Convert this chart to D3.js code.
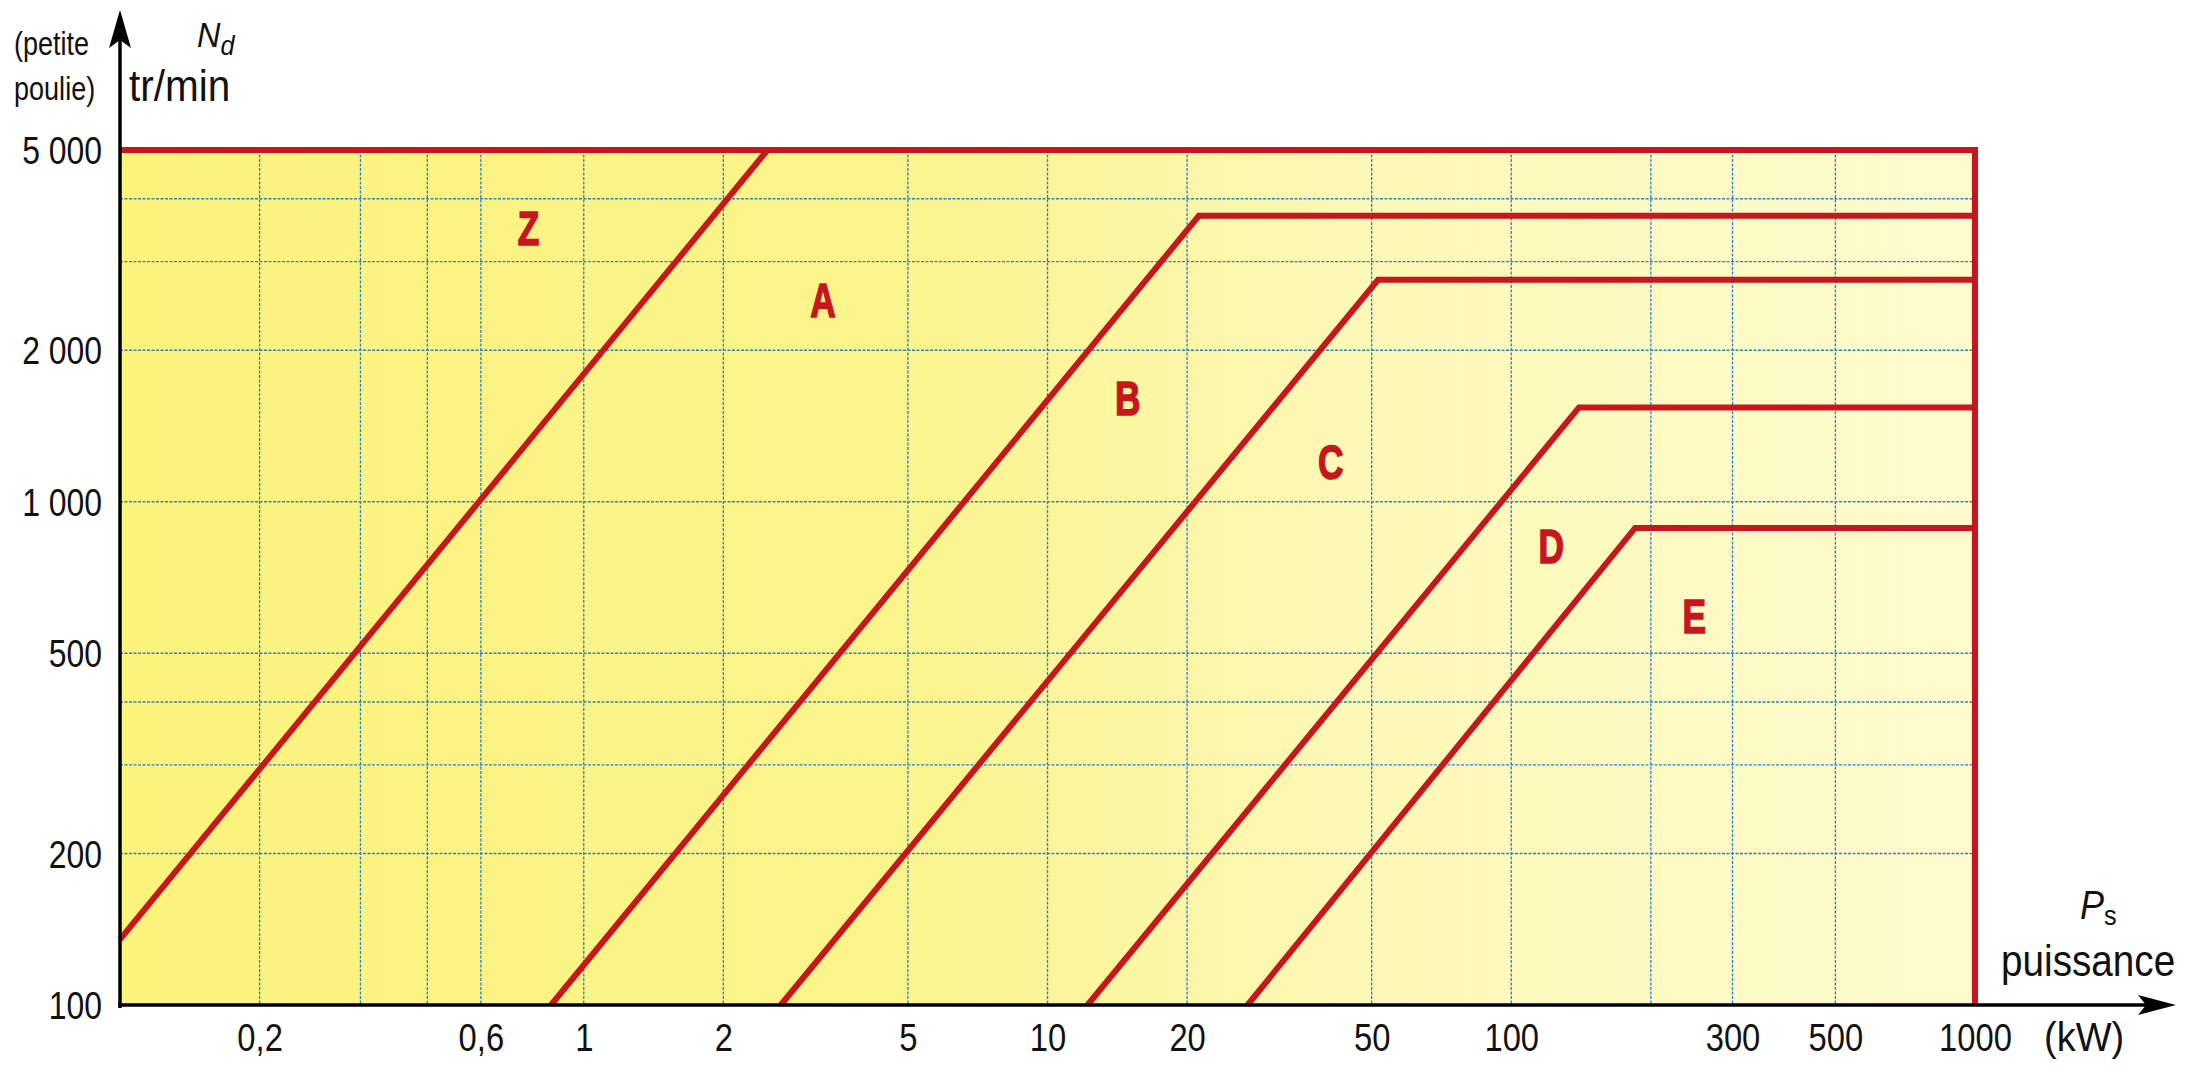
<!DOCTYPE html>
<html>
<head>
<meta charset="utf-8">
<script src="https://cdn.jsdelivr.net/npm/d3@7"></script>
<style>
  html, body { margin: 0; padding: 0; background: #ffffff; }
  svg { display: block; }
  .txt { font-family: "Liberation Sans", Arial, Helvetica, sans-serif; fill: #111; }
</style>
</head>
<body>
<svg id="chart" width="2202" height="1079"></svg>
<script>
// ---------- data ----------
const xGridValues = [0.2, 0.33, 0.46, 0.6, 1, 2, 5, 10, 20, 50, 100, 200, 300, 500];
const xTickValues = [0.2, 0.6, 1, 2, 5, 10, 20, 50, 100, 300, 500, 1000];
const xTickLabels = ["0,2", "0,6", "1", "2", "5", "10", "20", "50", "100", "300", "500", "1000"];
const yGridValues = [200, 300, 400, 500, 1000, 2000, 3000, 4000];
const yTickValues = [100, 200, 500, 1000, 2000, 5000];
const yTickLabels = ["100", "200", "500", "1 000", "2 000", "5 000"];

// boundaries between belt sections: [power kW, speed tr/min]
const boundaryZA = [[0.1, 135], [2.49, 5000]];
const boundaryAB = [[0.85, 100], [21.2, 3700], [1000, 3700]];
const boundaryBC = [[2.66, 100], [51.6, 2760], [1000, 2760]];
const boundaryCD = [[12.2, 100], [140, 1540], [1000, 1540]];
const boundaryDE = [[27, 100], [185, 887], [1000, 887]];
const outerLimit = [[0.1, 5000], [1000, 5000], [1000, 100]];

const sectionNames = ["Z", "A", "B", "C", "D", "E"];
const sectionP = [0.76, 3.28, 14.9, 40.8, 122, 248];
const sectionN = [3515, 2530, 1615, 1205, 820, 596];

// ---------- layout ----------
const plotL = 120, plotR = 1975, plotT = 150, plotB = 1005;
const RED = "#c8161e";
const svg = d3.select("#chart");

const x = d3.scaleLog().domain([0.1, 1000]).range([plotL, plotR]);
const y = d3.scaleLog().domain([100, 5000]).range([plotB, plotT]);

// condensed text helper
function label(px, py, size, sx, anchor) {
  const g = svg.append("g").attr("transform", `translate(${px},${py}) scale(${sx},1)`);
  return g.append("text").attr("class", "txt").attr("text-anchor", anchor || "start")
    .style("font-size", size + "px");
}

// background gradient (scan is more saturated on the left)
const defs = svg.append("defs");
const grad = defs.append("linearGradient").attr("id", "yel").attr("x1", "0").attr("x2", "1").attr("y1", "0").attr("y2", "0");
grad.append("stop").attr("offset", "0").attr("stop-color", "#fbf37c");
grad.append("stop").attr("offset", "0.42").attr("stop-color", "#faf48c");
grad.append("stop").attr("offset", "0.66").attr("stop-color", "#fcf8b6");
grad.append("stop").attr("offset", "1").attr("stop-color", "#fdfbcd");

svg.append("rect")
  .attr("x", x(0.1)).attr("y", y(5000))
  .attr("width", x(1000) - x(0.1)).attr("height", y(100) - y(5000))
  .attr("fill", "url(#yel)");

// grid
const grid = svg.append("g").attr("stroke", "#2a82d0").attr("stroke-width", 1.3)
  .attr("stroke-dasharray", "3,1.5").attr("fill", "none");
grid.selectAll("line.v").data(xGridValues).join("line").attr("class", "v")
  .attr("x1", d => x(d)).attr("x2", d => x(d)).attr("y1", y(5000)).attr("y2", y(100));
grid.selectAll("line.h").data(yGridValues).join("line").attr("class", "h")
  .attr("x1", x(0.1)).attr("x2", x(1000)).attr("y1", d => y(d)).attr("y2", d => y(d));

// red boundaries
const line = d3.line().x(d => x(d[0])).y(d => y(d[1]));
const reds = svg.append("g").attr("fill", "none").attr("stroke", RED)
  .attr("stroke-width", 6).attr("stroke-linejoin", "miter");
[boundaryZA, boundaryAB, boundaryBC, boundaryCD, boundaryDE, outerLimit].forEach(b => {
  reds.append("path").attr("d", line(b));
});

// section letters (bold condensed)
sectionNames.forEach((s, i) => {
  label(x(sectionP[i]), y(sectionN[i]), 49, 0.72, "middle")
    .attr("dy", "0.36em").style("font-weight", "bold").style("fill", RED)
    .style("stroke", RED).style("stroke-width", 1.6).text(s);
});

// axes lines + arrows
const ax = svg.append("g");
ax.append("line").attr("x1", plotL).attr("x2", plotL).attr("y1", plotB + 3).attr("y2", 22)
  .attr("stroke", "#000").attr("stroke-width", 3.5);
ax.append("line").attr("x1", plotL - 2).attr("x2", 2160).attr("y1", plotB).attr("y2", plotB)
  .attr("stroke", "#000").attr("stroke-width", 3.5);
ax.append("path").attr("d", `M${plotL},10 L${plotL + 11},48 L${plotL},40 L${plotL - 11},48 Z`).attr("fill", "#000");
ax.append("path").attr("d", `M2176,${plotB} L2138,${plotB - 10} L2146,${plotB} L2138,${plotB + 10} Z`).attr("fill", "#000");

// x tick labels
const xAxis = d3.axisBottom(x).tickValues(xTickValues)
  .tickFormat((d, i) => xTickLabels[i]).tickSize(0).tickPadding(0);
const gx = svg.append("g").attr("transform", `translate(0,${plotB})`).call(xAxis);
gx.select(".domain").remove();
gx.selectAll("text").attr("class", "txt").attr("dy", null).attr("y", 46)
  .attr("transform", "scale(0.84,1)")
  .style("font-size", "39px").attr("fill", "#111");

// y tick labels
const yAxis = d3.axisLeft(y).tickValues(yTickValues)
  .tickFormat((d, i) => yTickLabels[i]).tickSize(0).tickPadding(0);
const gy = svg.append("g").attr("transform", `translate(${plotL - 18},0)`).call(yAxis);
gy.select(".domain").remove();
gy.selectAll("text").attr("class", "txt").attr("dy", "0.36em")
  .attr("transform", "scale(0.84,1)")
  .style("font-size", "38px").attr("fill", "#111");

// axis titles
label(14, 55, 33, 0.82).text("(petite");
label(14, 100, 33, 0.82).text("poulie)");
const nd = label(197, 47, 36, 0.9);
nd.append("tspan").style("font-style", "italic").text("N");
nd.append("tspan").style("font-style", "italic").style("font-size", "28px").attr("dy", 8).text("d");
label(129, 101, 45, 0.9).text("tr/min");

const ps = label(2080, 919, 40, 0.9);
ps.append("tspan").style("font-style", "italic").text("P");
ps.append("tspan").style("font-size", "28px").attr("dy", 6).text("s");
label(2001, 976, 45, 0.86).text("puissance");
label(2044, 1051, 40, 0.95).text("(kW)");
</script>
</body>
</html>
